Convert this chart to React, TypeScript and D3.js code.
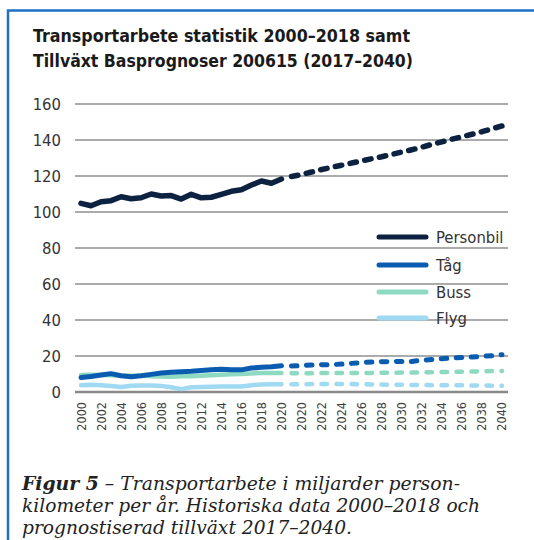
import React from "react";
import * as d3 from "d3";

// Category axis: historical 2000–2020 followed by forecast 2019–2040
const categories = [
  "2000", "2001", "2002", "2003", "2004", "2005", "2006", "2007", "2008", "2009",
  "2010", "2011", "2012", "2013", "2014", "2015", "2016", "2017", "2018", "2019", "2020",
  "2019", "2020", "2021", "2022", "2023", "2024", "2025", "2026", "2027", "2028", "2029",
  "2030", "2031", "2032", "2033", "2034", "2035", "2036", "2037", "2038", "2039", "2040",
];
const histStart = 0;
const forecastStart = 21;

const yTicks = [0, 20, 40, 60, 80, 100, 120, 140, 160];

const seriesNames = ["Personbil", "Tåg", "Buss", "Flyg"];
const seriesColors = ["#0d2240", "#0a5cb0", "#8ed9c2", "#9fd9f2"];
const seriesWidths = [5.5, 5, 4.5, 4.5];

// historical values (index 0..20)
const personbilHist = [104.8, 103.5, 105.7, 106.3, 108.5, 107.4, 107.9, 110, 108.9, 109.1,
  107.2, 109.8, 107.9, 108.2, 109.8, 111.5, 112.4, 115, 117.2, 116, 118.3];
const tagHist = [8.0, 8.6, 9.4, 10.2, 9.0, 8.5, 9.0, 9.8, 10.6, 11.0,
  11.3, 11.5, 11.9, 12.3, 12.6, 12.4, 12.3, 13.3, 13.7, 14.0, 14.6];
const bussHist = [9.5, 9.6, 9.5, 9.3, 9.0, 9.0, 9.0, 8.8, 8.6, 8.5,
  8.7, 8.8, 9.0, 9.3, 9.6, 9.8, 10.0, 10.3, 10.5, 10.5, 10.5];
const flygHist = [3.8, 4.0, 3.8, 3.3, 2.8, 3.5, 3.6, 3.6, 3.4, 2.6,
  1.6, 2.6, 2.8, 2.9, 3.0, 3.0, 3.1, 3.8, 4.2, 4.3, 4.3];

// forecast values (index 21..42)
const personbilProg = [119.7, 120.8, 122.2, 123.6, 124.8, 126, 127.2, 128.4, 129.6, 130.7, 132,
  133.3, 134.6, 136, 137.6, 139, 140.4, 141.8, 143.2, 144.6, 146.2, 147.8];
const tagProg = [14.4, 14.7, 15.0, 15.1, 15.2, 15.5, 15.9, 16.3, 16.7, 16.8, 16.9,
  17.0, 17.0, 17.6, 18.1, 18.5, 18.9, 19.2, 19.4, 19.8, 20.2, 20.7];
const bussProg = [10.4, 10.4, 10.4, 10.5, 10.5, 10.5, 10.6, 10.6, 10.6, 10.7, 10.7,
  10.8, 10.8, 10.9, 11.0, 11.1, 11.2, 11.3, 11.4, 11.5, 11.6, 11.7];
const flygProg = [4.3, 4.3, 4.4, 4.4, 4.5, 4.5, 4.4, 4.3, 4.2, 4.1, 4.0,
  4.0, 3.9, 3.9, 3.8, 3.8, 3.7, 3.7, 3.6, 3.6, 3.5, 3.5];

const histSeries = [personbilHist, tagHist, bussHist, flygHist];
const progSeries = [personbilProg, tagProg, bussProg, flygProg];

const titleLines = [
  "Transportarbete statistik 2000–2018 samt",
  "Tillväxt Basprognoser 200615 (2017–2040)",
];
const captionBold = "Figur 5";
const captionLines = [
  " – Transportarbete i miljarder person-",
  "kilometer per år. Historiska data 2000–2018 och",
  "prognostiserad tillväxt 2017–2040.",
];

const sans = "'DejaVu Sans Condensed', 'DejaVu Sans', sans-serif";
const serif = "'DejaVu Serif', 'Liberation Serif', serif";

export default function App() {
  const W = 534;
  const H = 540;
  const plotLeft = 75;
  const plotRight = 508;

  const x = d3
    .scalePoint<number>()
    .domain(d3.range(categories.length))
    .range([plotLeft, plotRight])
    .padding(0.6);
  const y = d3.scaleLinear().domain([0, 160]).range([392, 104]);

  const line = d3
    .line<[number, number]>()
    .x((d) => x(d[0]) as number)
    .y((d) => y(d[1]));

  const histPath = (vals: number[]) => line(vals.map((v, i) => [histStart + i, v]));
  const progPath = (vals: number[]) => line(vals.map((v, i) => [forecastStart + i, v]));

  const order = [3, 2, 1, 0];
  const legendY = [237, 265, 292, 318];

  return (
    <svg
      width={W}
      height={H}
      style={{ position: "absolute", left: 0, top: 0, display: "block", background: "#fff" }}
    >
      <rect x={8} y={10.5} width={700} height={700} fill="none" stroke="#1e6fc8" strokeWidth={2.5} />

      {titleLines.map((t, i) => (
        <text
          key={i}
          x={33}
          y={42 + i * 25}
          fontFamily={sans}
          fontWeight="bold"
          fontSize={17}
          fill="#1a1a1a"
          textLength={i === 0 ? 377 : 380}
          lengthAdjust="spacingAndGlyphs"
        >
          {t}
        </text>
      ))}

      {yTicks.map((t) => (
        <g key={t}>
          <line
            x1={plotLeft}
            x2={plotRight}
            y1={y(t)}
            y2={y(t)}
            stroke={t === 0 ? "#8a8a8a" : "#8f8f8f"}
            strokeWidth={t === 0 ? 2.5 : 1.5}
          />
          <text
            x={61}
            y={y(t)}
            textAnchor="end"
            dominantBaseline="central"
            fontFamily={sans}
            fontSize={16.5}
            fill="#333"
          >
            {t}
          </text>
        </g>
      ))}

      {categories.map((c, i) =>
        i % 2 === 0 ? (
          <text
            key={i}
            transform={`translate(${x(i)},402) rotate(-90)`}
            textAnchor="end"
            dominantBaseline="central"
            fontFamily={sans}
            fontSize={12.5}
            fill="#404040"
          >
            {c}
          </text>
        ) : null
      )}

      {order.map((s) => (
        <g key={s}>
          <path
            d={histPath(histSeries[s]) || ""}
            fill="none"
            stroke={seriesColors[s]}
            strokeWidth={seriesWidths[s]}
            strokeLinecap="round"
            strokeLinejoin="round"
          />
          <path
            d={progPath(progSeries[s]) || ""}
            fill="none"
            stroke={seriesColors[s]}
            strokeWidth={seriesWidths[s]}
            strokeLinecap="round"
            strokeLinejoin="round"
            strokeDasharray={s === 0 ? "6.5 8.5" : "5.5 9.5"}
          />
        </g>
      ))}

      {seriesNames.map((n, i) => (
        <g key={n}>
          <line
            x1={379}
            x2={426}
            y1={legendY[i]}
            y2={legendY[i]}
            stroke={seriesColors[i]}
            strokeWidth={5}
            strokeLinecap="round"
          />
          <text
            x={436}
            y={legendY[i]}
            dominantBaseline="central"
            fontFamily={sans}
            fontSize={16.5}
            fill="#333"
          >
            {n}
          </text>
        </g>
      ))}

      {captionLines.map((t, i) => (
        <text
          key={i}
          x={22}
          y={490 + i * 22}
          fontFamily={serif}
          fontStyle="italic"
          fontSize={18}
          fill="#222"
          textLength={i === 0 ? 438 : i === 1 ? 458 : 330}
          lengthAdjust="spacingAndGlyphs"
        >
          {i === 0 ? <tspan fontWeight="bold">{captionBold}</tspan> : null}
          {t}
        </text>
      ))}
    </svg>
  );
}
